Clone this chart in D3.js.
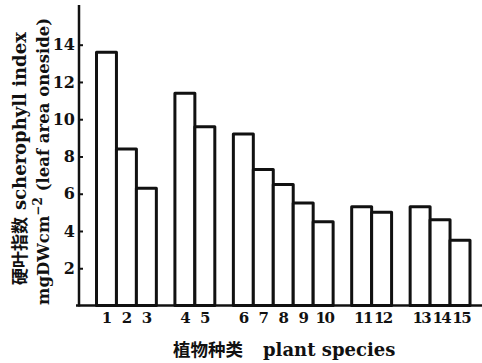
<!DOCTYPE html>
<html>
<head>
<meta charset="utf-8">
<script src="https://cdn.jsdelivr.net/npm/d3@7"></script>
<style>
  html, body { margin: 0; padding: 0; background: #fff; }
  svg { display: block; }
  .lat { font-family: "DejaVu Serif", "Liberation Serif", serif; font-weight: bold; }
  .zh  { font-family: "Noto Sans CJK SC", sans-serif; font-weight: bold; }
</style>
</head>
<body>
<svg id="chart" width="482" height="363"></svg>
<script>
// Species numbers, the group each species belongs to, and the sclerophyll index
const species = ["1","2","3","4","5","6","7","8","9","10","11","12","13","14","15"];
const speciesGroup = [0,0,0,1,1,2,2,2,2,2,3,3,4,4,4];
const sclerophyllIndex = [13.6,8.4,6.3,11.4,9.6,9.2,7.3,6.5,5.5,4.5,5.3,5.0,5.3,4.6,3.5];
const yTickValues = [2,4,6,8,10,12,14];

const yTitleZh = "硬叶指数";
const yTitleEn = "scherophyll index";
const yUnitMain = "mgDWcm";
const yUnitExp = "−2";
const yUnitNote = "(leaf area oneside)";
const xTitleZh = "植物种类";
const xTitleEn = "plant species";

const ink = "#111";
const svg = d3.select("#chart");

// Bars are laid out in slots; each new group adds a gap of almost one bar
const groupGap = 0.93;
const nGroups = d3.max(speciesGroup) + 1;
const slot = i => i + speciesGroup[i] * groupGap;

const x = d3.scaleLinear()
  .domain([0, species.length + (nGroups - 1) * groupGap])
  .range([96.5, 470]);
const y = d3.scaleLinear().domain([0, 14]).range([305.5, 44.7]);

const axisX = 79;   // position of the vertical axis
const axisTop = 5;

// Bars
svg.append("g")
  .selectAll("rect")
  .data(sclerophyllIndex)
  .join("rect")
  .attr("x", (d, i) => x(slot(i)))
  .attr("width", (d, i) => x(slot(i) + 1) - x(slot(i)))
  .attr("y", d => y(d))
  .attr("height", d => y(0) - y(d))
  .attr("fill", "#fff")
  .attr("stroke", ink)
  .attr("stroke-width", 3)
  .attr("stroke-linejoin", "round");

// Vertical axis with ticks pointing into the plot
const yAxis = svg.append("g")
  .attr("transform", `translate(${axisX},0)`)
  .call(d3.axisLeft(y).tickValues(yTickValues).tickSize(-4).tickPadding(4).tickSizeOuter(0));
yAxis.select(".domain").remove();
yAxis.selectAll(".tick line").attr("stroke", ink).attr("stroke-width", 2);
yAxis.selectAll(".tick text")
  .attr("class", "lat")
  .attr("font-size", 16)
  .attr("fill", ink);

svg.append("line")
  .attr("x1", axisX).attr("x2", axisX)
  .attr("y1", axisTop).attr("y2", y(0) + 1)
  .attr("stroke", ink).attr("stroke-width", 2.5);

// Baseline
svg.append("line")
  .attr("x1", axisX - 3).attr("x2", 482)
  .attr("y1", y(0)).attr("y2", y(0))
  .attr("stroke", ink).attr("stroke-width", 2.5);

// Species numbers under each bar (set tight so two-digit numbers fit a bar)
const xLabel = d3.scaleOrdinal()
  .domain(species)
  .range(species.map((d, i) => x(slot(i) + 0.5)));
const xAxis = svg.append("g")
  .attr("transform", `translate(0,${y(0)})`)
  .call(d3.axisBottom(xLabel).tickSize(0).tickPadding(7));
xAxis.select(".domain").remove();
xAxis.selectAll(".tick text")
  .attr("class", "lat")
  .attr("font-size", 15)
  .attr("letter-spacing", d => d.length > 1 ? -1.5 : 0)
  .attr("dx", d => d.length > 1 ? 0.75 : 0)
  .attr("fill", ink);

// Horizontal axis title
const xt = svg.append("text")
  .attr("x", 173).attr("y", 356)
  .attr("fill", ink);
xt.append("tspan").attr("class", "zh").attr("font-size", 17.5).text(xTitleZh);
xt.append("tspan").attr("class", "lat").attr("font-size", 18).attr("dx", 20).text(xTitleEn);

// Vertical axis title, two rotated lines
const yt1 = svg.append("text")
  .attr("transform", "translate(26,285) rotate(-90)")
  .attr("fill", ink);
yt1.append("tspan").attr("class", "zh").attr("font-size", 17).text(yTitleZh);
yt1.append("tspan").attr("class", "lat").attr("font-size", 18).attr("dx", 7).text(yTitleEn);

const yt2 = svg.append("text")
  .attr("transform", "translate(49,305) rotate(-90)")
  .attr("class", "lat")
  .attr("font-size", 16.5)
  .attr("fill", ink);
yt2.append("tspan").text(yUnitMain);
yt2.append("tspan").attr("font-size", 12).attr("dy", -7).text(yUnitExp);
yt2.append("tspan").attr("dy", 7).attr("dx", 6).text(yUnitNote);
</script>
</body>
</html>
